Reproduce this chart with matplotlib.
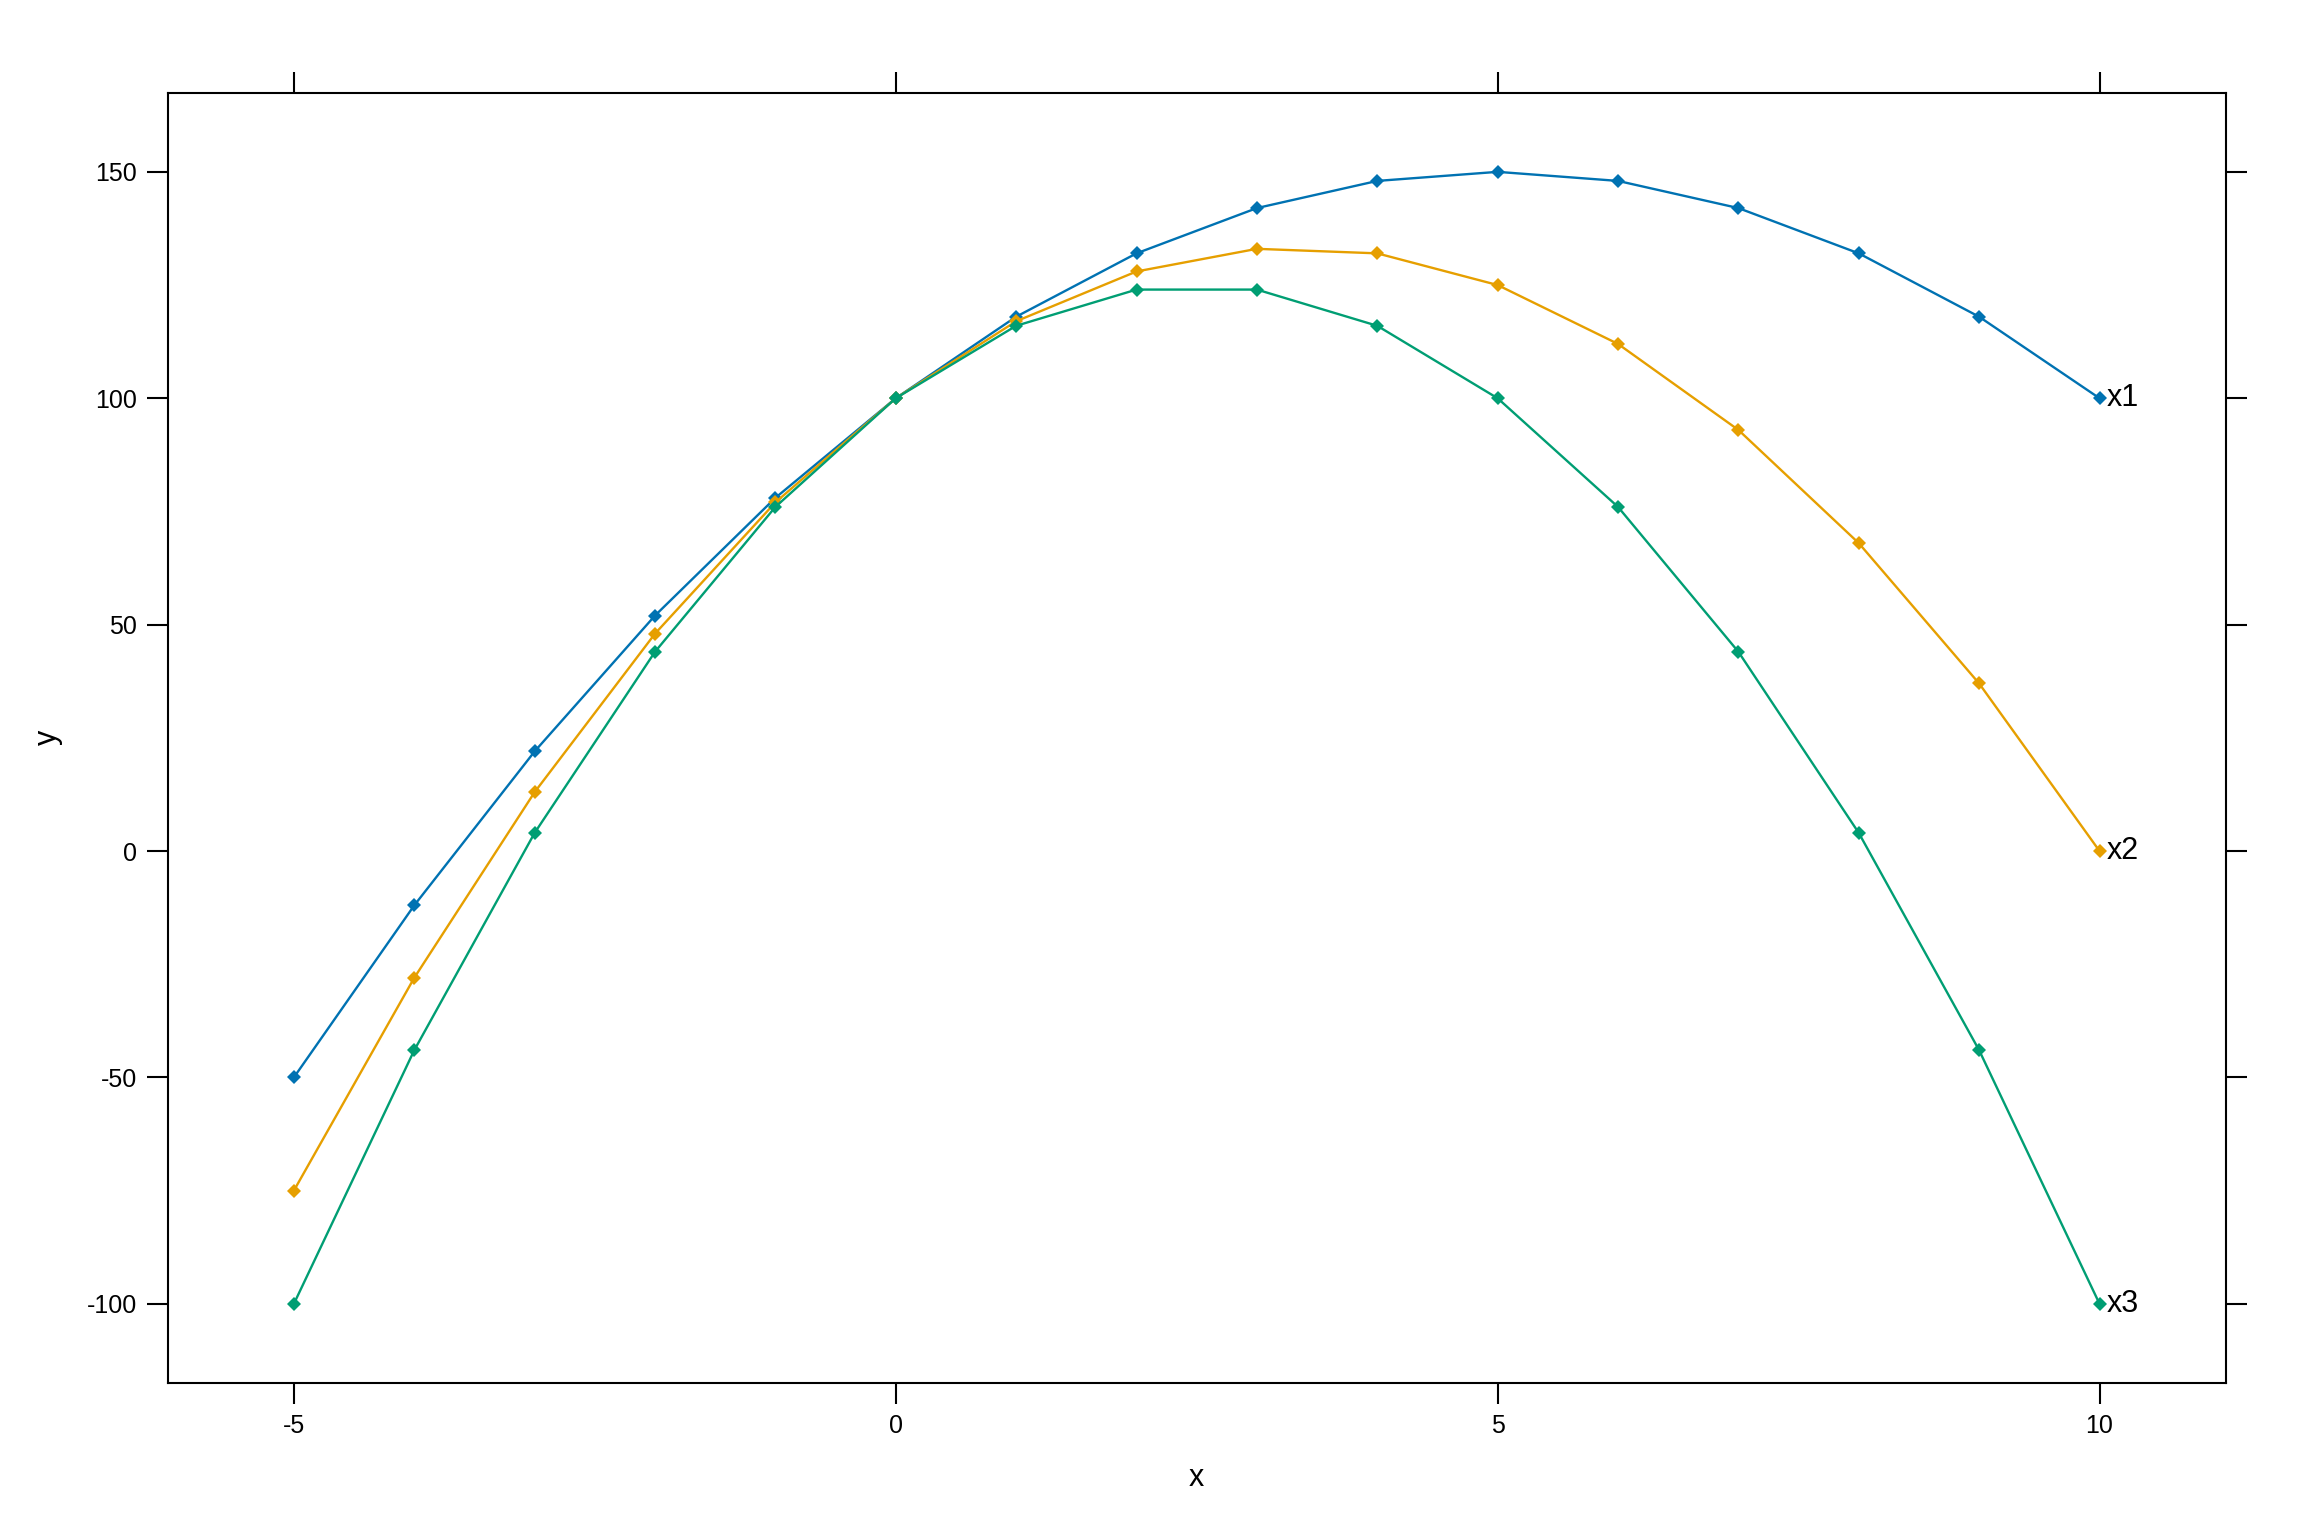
import matplotlib
matplotlib.use("Agg")
import matplotlib.pyplot as plt

plt.rcParams["font.family"] = ["Liberation Sans", "DejaVu Sans"]
plt.rcParams["axes.unicode_minus"] = False

x = [-5, -4, -3, -2, -1, 0, 1, 2, 3, 4, 5, 6, 7, 8, 9, 10]
x1 = [-50, -12, 22, 52, 78, 100, 118, 132, 142, 148, 150, 148, 142, 132, 118, 100]
x2 = [-75, -28, 13, 48, 77, 100, 117, 128, 133, 132, 125, 112, 93, 68, 37, 0]
x3 = [-100, -44, 4, 44, 76, 100, 116, 124, 124, 116, 100, 76, 44, 4, -44, -100]

series_names = ["x1", "x2", "x3"]
colors = ["#0072B2", "#E69F00", "#009E73"]

fig = plt.figure(figsize=(23.04, 15.36), dpi=100)
ax = fig.add_axes([0.0727, 0.0996, 0.9661 - 0.0727, 0.9397 - 0.0996])

for ys, name, c in zip([x1, x2, x3], series_names, colors):
    ax.plot(x, ys, color=c, lw=1.7, marker="D", ms=7, mew=0)
    ax.text(x[-1] + 0.06, ys[-1], name, fontsize=22, va="center", ha="left")

ax.set_xlim(-6.05, 11.05)
ax.set_ylim(-117.5, 167.5)
ax.set_xticks([-5, 0, 5, 10])
ax.set_yticks([-100, -50, 0, 50, 100, 150])

ax.tick_params(axis="both", direction="out", length=15, width=1.5,
               labelsize=18, pad=7, top=True, right=True)
for s in ax.spines.values():
    s.set_linewidth(1.5)

ax.set_xlabel("x", fontsize=22, labelpad=18)
ax.set_ylabel("y", fontsize=22, labelpad=17)

fig.savefig("out.png", dpi=100)
